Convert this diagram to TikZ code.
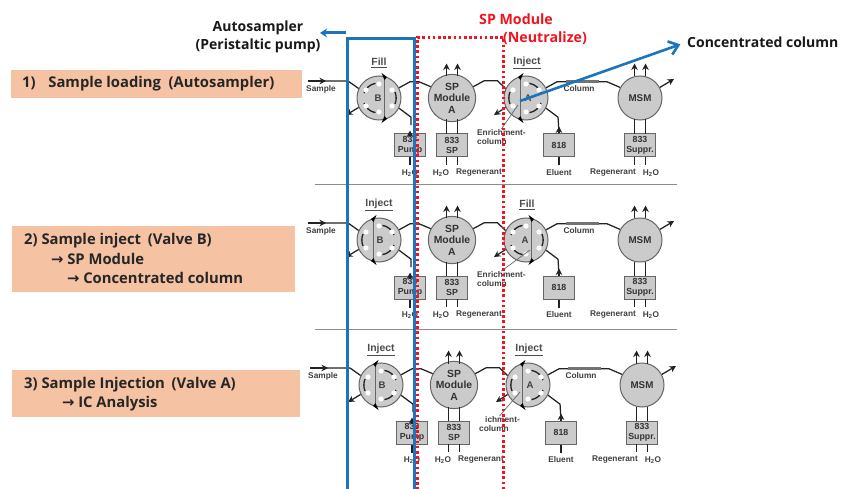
\documentclass[tikz,border=0pt]{standalone}
\usepackage{fontspec}
\setmainfont{Open Sans}
\newfontfamily\smallfont{Liberation Sans}
\newfontfamily\arrowfont{DejaVu Sans}
\usetikzlibrary{arrows.meta}
\definecolor{peach}{HTML}{F6C2A4}
\definecolor{pipe}{HTML}{222222}
\definecolor{bluebox}{HTML}{1C75BC}
\definecolor{reddot}{HTML}{F0141E}
\definecolor{discfill}{HTML}{CBCBCB}
\tikzset{
  pipeline/.style={draw=pipe,line width=1.25pt},
  pipearrow/.style={pipeline,-{Stealth[length=6.5pt,width=6.5pt]}},
  disc/.style={circle,draw=black!60,line width=1pt,fill=discfill,minimum size=44pt,inner sep=0pt,
    font=\smallfont\bfseries\fontsize{10.4}{11.5}\selectfont,align=center,text=black!80},
  unitbox/.style={rectangle,draw=black!60,line width=1pt,fill=discfill,minimum width=31pt,minimum height=23pt,inner sep=0pt,
    font=\smallfont\bfseries\fontsize{8.8}{9.6}\selectfont,align=center,text=black!80},
  tinylabel/.style={inner sep=0pt,font=\smallfont\bfseries\fontsize{8.3}{9.6}\selectfont,text=black!75,align=left},
  statelabel/.style={inner sep=0pt,font=\smallfont\bfseries\fontsize{10.4}{11}\selectfont,text=black!70},
  stepnote/.style={rectangle,fill=peach,inner sep=0pt,anchor=north west},
  notetext/.style={inner sep=0pt,anchor=west,font=\bfseries\fontsize{14.8}{16}\selectfont,text=black!85},
  headtext/.style={inner sep=0pt,font=\bfseries\fontsize{14}{15}\selectfont,text=black!90},
  redtext/.style={inner sep=0pt,font=\bfseries\fontsize{14.2}{15}\selectfont,text=reddot},
  rule/.style={draw=black!45,line width=1pt},
}
\newcommand{\valvedraw}[6]{%
  \node[disc] (#1) at (#2,#3) {};
  \begin{scope}[shift={(#2,#3)},xscale=#5]
    \draw[pipe,line width=1.3pt] (-15,-5) arc[start angle=-160,end angle=-100,radius=15];
    \draw[pipe,line width=1.3pt] (-15,5) arc[start angle=160,end angle=100,radius=15];
    \draw[pipe,line width=1.3pt] (16,-6) arc[start angle=-22,end angle=22,radius=16];
    \draw[black!60,line width=1.7pt] (5.5,-22) -- (5.5,22);
    \fill[black] (2.5,-25) -- (8,-21) -- (5.5,-18) -- cycle;
    \fill[black] (2.5,25) -- (8,21) -- (5.5,18) -- cycle;
    \foreach \a/\b in {-13/-8,-13/8,0/-14,0/14,13/-8,13/8}{
      \fill[white] (\a,\b) circle[radius=2.6];
    }
  \end{scope}
  \node[inner sep=0pt,font=\smallfont\bfseries\fontsize{9.6}{10}\selectfont,text=black!75] at (#2+#6,#3) {#4};
}
\newcommand{\processrow}[8]{%
\begin{scope}[shift={(#3,#2)}]
  \ifnum#4>0 \valvedraw{B#1}{379}{98}{B}{#4}{-1}\else\valvedraw{B#1}{379}{98}{B}{#4}{1}\fi
  \ifnum#5>0 \valvedraw{A#1}{526}{98}{A}{#5}{-1}\else\valvedraw{A#1}{526}{98}{A}{#5}{2}\fi
  \node[disc] (S#1) at (452,98) {SP\\Module\\A};
  \node[disc,font=\smallfont\bfseries\fontsize{9.8}{10}\selectfont] (M#1) at (640,98) {MSM};
  \node[unitbox] (P#1) at (410,145.5) {833\\Pump};
  \node[unitbox] (U#1) at (452,145.5) {833\\SP};
  \node[unitbox] (E#1) at (559,145.5) {818};
  \node[unitbox] (R#1) at (640,145.5) {833\\Suppr.};
  \node[statelabel] (TB#1) at (379,63) {\underline{#6}};
  \node[statelabel] (TA#1) at (527,63) {\underline{#7}};
  \coordinate (sIn#1) at (308,81);
  \coordinate (sOut#1) at (346,115);
  \coordinate (aOut#1) at (494,115);
  \coordinate (mOut#1) at (674,79);
  \node[tinylabel] (lbS#1) at (321,89) {Sample};
  \node[tinylabel] (lbH#1) at (410,173) {H\textsubscript{2}O};
  \node[tinylabel] (lbH2#1) at (441,173) {H\textsubscript{2}O};
  \node[tinylabel] (lbG#1) at (479,173) {Regenerant};
  \node[tinylabel] (lbL#1) at (559,173) {Eluent};
  \node[tinylabel] (lbG2#1) at (613,173) {Regenerant};
  \node[tinylabel] (lbH3#1) at (651,173) {H\textsubscript{2}O};
  \node[tinylabel,anchor=north west] (lbN#1) at (477,129) {#8\\column};
  \node[tinylabel] (lbC#1) at (579,89) {Column};
  \draw[pipeline] (sIn#1) -- ++(40,0) -- (B#1.155);
  \draw[pipeline,-{Stealth[length=6.5pt,width=6.5pt]}] (sIn#1) -- ++(18,0);
  \draw[pipearrow] (B#1.205) -- (sOut#1);
  \draw[pipeline] (B#1.27) -- ++(11,-6) -- ++(9,0) -- (S#1.152);
  \draw[pipeline] (B#1.-27) -- ++(12,9) -- ++(0,8);
  \draw[pipearrow] (P#1.north) ++(0,3) -- ++(0,-6);
  \draw[pipeline] (S#1.28) -- ++(11,-6) -- ++(13,0) -- (A#1.155);
  \draw[pipearrow] (A#1.205) -- (aOut#1);
  \ifnum#5>0
    \draw[black!60,line width=.7pt] (A#1.center) ++(4,10) -- (lbN#1.north);
  \else
    \draw[black!60,line width=.7pt] (A#1.center) ++(-8,7) -- (lbN#1.north);
  \fi
  \draw[pipeline] (A#1.27) -- ++(11,-6) -- ++(9,0) coordinate (cOne#1);
  \draw[pipeline] (cOne#1) -- ++(33,0) coordinate (cTwo#1) -- ++(8,0) -- (M#1.152);
  \draw[black!55,line width=3pt] (cOne#1) -- (cTwo#1);
  \draw[pipeline] (A#1.-27) -- ++(12,9) -- (E#1.north);
  \draw[pipearrow] (E#1.north) -- ++(0,-7);
  \draw[pipearrow] (M#1.28) -- (mOut#1);
  \foreach \n/\x in {S/-5.5,S/5.5,M/-5.5,M/5.5}{
    \draw[pipearrow] (\n#1.center) ++(\x,-21.5) -- ++(0,-13);
  }
  \foreach \n/\u in {S/U,M/R}{
    \foreach \x in {-5.5,5.5}{
      \draw[pipeline] (\n#1.center) ++(\x,21.5) -- ++(0,14.5);
      \draw[pipeline] (\u#1.center) ++(\x,11.5) -- ++(0,8);
    }
  }
  \draw[pipeline] (P#1.south) -- ++(0,8);
  \draw[pipeline] (E#1.south) -- ++(0,8);
\end{scope}}
\newcommand{\rarr}{{\arrowfont\bfseries →}}
\begin{document}
\begin{tikzpicture}[x=1pt,y=-1pt]
\useasboundingbox (0,0) rectangle (843,489);
\fill[white] (0,0) rectangle (843,489);
\node[stepnote,minimum width=291pt,minimum height=28pt] (n1) at (11,70) {};
\node[stepnote,minimum width=283pt,minimum height=66pt] (n2) at (12,226) {};
\node[stepnote,minimum width=288pt,minimum height=47pt] (n3) at (12,370) {};
\node[notetext] (t1) at (22,84) {1)\hspace{.6em} Sample loading\hspace{.25em} (Autosampler)};
\node[notetext] (t2) at (24,241) {2) Sample inject\hspace{.2em} (Valve B)};
\node[notetext] (t2a) at (51,259) {\rarr\hspace{.25em}SP Module};
\node[notetext] (t2b) at (67,278) {\rarr\hspace{.25em}Concentrated column};
\node[notetext] (t3) at (24,385) {3) Sample Injection\hspace{.2em} (Valve A)};
\node[notetext] (t3a) at (62,404) {\rarr\hspace{.25em}IC Analysis};
\coordinate (r1a) at (315,185); \coordinate (r1b) at (677,185);
\coordinate (r2a) at (315,329); \coordinate (r2b) at (677,329);
\draw[rule] (r1a) -- (r1b);
\draw[rule] (r2a) -- (r2b);
\processrow{x}{0}{0}{1}{-1}{Fill}{Inject}{Enrichment-}
\processrow{y}{142}{0}{-1}{1}{Inject}{Fill}{Enrichment-}
\processrow{z}{287}{2}{-1}{-1}{Inject}{Inject}{\hspace{6pt}ichment-}
\node[headtext] (auto) at (258,28) {Autosampler};
\node[headtext] (peri) at (258,46) {(Peristaltic pump)};
\node[redtext] (spm) at (516,19) {SP Module};
\node[redtext] (neu) at (545,38) {(Neutralize)};
\node[headtext,anchor=west] (conc) at (687,42) {Concentrated column};
\node[draw=bluebox,line width=3pt,minimum width=67pt,minimum height=470pt,inner sep=0pt,anchor=north west] (bb) at (346,37) {};
\node[draw=reddot,line width=2.6pt,dash pattern=on 2.6pt off 2.6pt,minimum width=86pt,minimum height=470pt,inner sep=0pt,anchor=north west] (rb) at (416,36) {};
\coordinate (ba) at (346,33); \coordinate (bc) at (320,33);
\draw[bluebox,line width=3pt,-{Stealth[length=7pt,width=9pt]}] (ba) -- (bc);
\coordinate (cs) at (520,101);
\draw[bluebox,line width=2.6pt,-{Straight Barb[length=9pt,width=14pt]},shorten >=7pt] (cs) -- (conc.west);
\end{tikzpicture}
\end{document}
